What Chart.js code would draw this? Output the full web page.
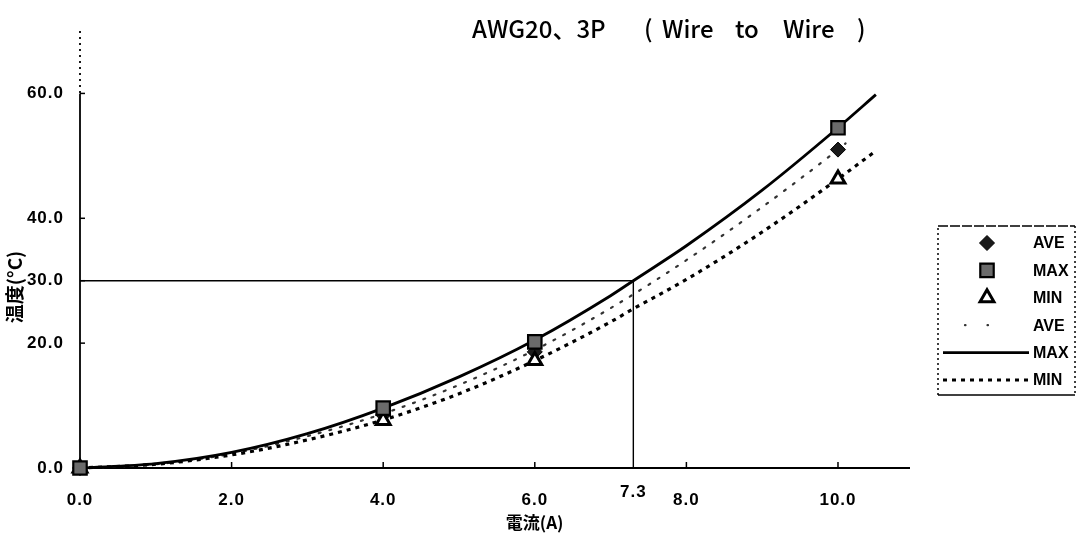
<!DOCTYPE html>
<html>
<head>
<meta charset="utf-8">
<script src="https://cdn.jsdelivr.net/npm/chart.js@4.4.1/dist/chart.umd.min.js"></script>
<style>
  html, body { margin: 0; padding: 0; background: #fff; }
  canvas { display: block; }
</style>
</head>
<body>
<canvas id="c" width="1081" height="540"></canvas>
<script>
// Temperature rise (°C) against current (A) — AWG20, 3 poles, wire to wire
const currentA = [0, 4, 6, 10];
const aveTemp  = [0, 8.5, 18.6, 51.0];
const maxTemp  = [0, 9.6, 20.2, 54.5];
const minTemp  = [0, 7.6, 17.2, 46.3];

// Trend curves
const maxFitX = [0, 1, 2, 3, 4, 5, 6, 7, 7.3, 8, 9, 10, 10.5];
const maxFitY = [0, 0.7, 2.5, 5.5, 9.6, 14.6, 20.5, 27.6, 30.0, 35.6, 44.5, 54.5, 59.8];
const aveFitX = [0, 1, 2, 3, 4, 5, 6, 7, 8, 9, 10, 10.1];
const aveFitY = [0, 0.6, 2.3, 5.1, 8.7, 13.3, 18.9, 25.6, 33.3, 41.8, 51.0, 52.0];
const minFitX = [0, 1, 2, 3, 4, 5, 6, 7, 7.3, 8, 9, 10, 10.5];
const minFitY = [0, 0.6, 2.1, 4.5, 7.7, 11.9, 17.2, 23.4, 25.5, 30.2, 37.8, 46.3, 50.8];

// Rated point: current at which MAX reaches 30 °C
const ratedCurrent = 7.3;
const ratedTemp = 30;

// Axis tick labels
const xTickValues = [0, 2, 4, 6, 7.3, 8, 10];
const yTickValues = [0, 20, 30, 40, 60];

const chartTitle = ['AWG20、3P', '(', 'Wire', 'to', 'Wire', ')'];
const xTitle = '電流(A)';
const yTitle = '温度(°C)';
const legendLabels = ['AVE', 'MAX', 'MIN', 'AVE', 'MAX', 'MIN'];

const pts = (xs, ys) => xs.map((x, i) => ({ x, y: ys[i] }));

const markMax = {
  label: 'MAX', data: pts(currentA, maxTemp), showLine: false, order: 0, clip: false,
  pointStyle: 'rect', pointRadius: 9.5, pointBackgroundColor: '#6b6b6b',
  pointBorderColor: '#000', pointBorderWidth: 2.2
};
const markMin = {
  label: 'MIN', data: pts(currentA, minTemp), showLine: false, order: 1, clip: false,
  pointStyle: 'triangle', pointRadius: 8, pointBackgroundColor: '#fff',
  pointBorderColor: '#000', pointBorderWidth: 3
};
const markAve = {
  label: 'AVE', data: pts(currentA, aveTemp), showLine: false, order: 2, clip: false,
  pointStyle: 'rectRot', pointRadius: 7.5, pointBackgroundColor: '#1a1a1a',
  pointBorderColor: '#000', pointBorderWidth: 1
};
const lineAve = {
  label: 'AVE', data: pts(aveFitX, aveFitY), showLine: true, order: 5, clip: false,
  borderColor: '#333', borderWidth: 2.2, borderDash: [2, 9], borderCapStyle: 'round',
  pointRadius: 0, tension: 0.4, cubicInterpolationMode: 'monotone'
};
const lineMax = {
  label: 'MAX', data: pts(maxFitX, maxFitY), showLine: true, order: 3, clip: false,
  borderColor: '#000', borderWidth: 2.8,
  pointRadius: 0, tension: 0.4, cubicInterpolationMode: 'monotone'
};
const lineMin = {
  label: 'MIN', data: pts(minFitX, minFitY), showLine: true, order: 4, clip: false,
  borderColor: '#000', borderWidth: 3.2, borderDash: [4, 5],
  pointRadius: 0, tension: 0.4, cubicInterpolationMode: 'monotone'
};
const guide = {
  label: 'rated', data: [{ x: 0, y: ratedTemp }, { x: ratedCurrent, y: ratedTemp }, { x: ratedCurrent, y: 0 }],
  showLine: true, order: 6, clip: false, borderColor: '#000', borderWidth: 1.4, pointRadius: 0, tension: 0
};

const TICK_FONT = 'bold 17px "Liberation Sans", Arial, sans-serif';

// Axes, inner tick marks and tick labels
const axesPlugin = {
  id: 'axes',
  beforeDatasetsDraw(chart) {
    const { ctx, chartArea: a, scales: { x, y } } = chart;
    ctx.save();
    ctx.strokeStyle = '#000';
    // value axis: dotted above the top label, solid below
    ctx.lineWidth = 1.8;
    ctx.setLineDash([2, 4]);
    ctx.beginPath(); ctx.moveTo(a.left, a.top); ctx.lineTo(a.left, y.getPixelForValue(60)); ctx.stroke();
    ctx.setLineDash([]);
    ctx.beginPath(); ctx.moveTo(a.left, y.getPixelForValue(60)); ctx.lineTo(a.left, a.bottom); ctx.stroke();
    // category axis
    ctx.lineWidth = 2;
    ctx.beginPath(); ctx.moveTo(a.left, a.bottom); ctx.lineTo(a.right, a.bottom); ctx.stroke();
    // inner tick marks
    ctx.lineWidth = 1.5;
    yTickValues.forEach(v => {
      if (v === 0) return;
      const py = y.getPixelForValue(v);
      ctx.beginPath(); ctx.moveTo(a.left, py); ctx.lineTo(a.left + 5, py); ctx.stroke();
    });
    xTickValues.forEach(v => {
      if (v === 0 || v === ratedCurrent) return;
      const px = x.getPixelForValue(v);
      ctx.beginPath(); ctx.moveTo(px, a.bottom); ctx.lineTo(px, a.bottom - 6); ctx.stroke();
    });
    ctx.restore();
  },
  afterDraw(chart) {
    const { ctx, chartArea: a, scales: { x, y } } = chart;
    ctx.save();
    ctx.fillStyle = '#000';
    ctx.font = TICK_FONT;
    ctx.letterSpacing = '1px';
    ctx.textBaseline = 'middle';
    ctx.textAlign = 'right';
    yTickValues.forEach(v => ctx.fillText(v.toFixed(1), a.left - 16, y.getPixelForValue(v)));
    ctx.textAlign = 'center';
    xTickValues.forEach(v => {
      const py = a.bottom + (v === ratedCurrent ? 24 : 32);
      ctx.fillText(v.toFixed(1), x.getPixelForValue(v), py);
    });
    ctx.letterSpacing = '0px';

    // axis titles
    ctx.font = 'bold 17px "Noto Sans CJK JP", sans-serif';
    ctx.fillText(xTitle, (x.getPixelForValue(4) + x.getPixelForValue(10)) / 2 - 76, a.bottom + 55);
    ctx.save();
    ctx.translate(15, y.getPixelForValue(29));
    ctx.rotate(-Math.PI / 2);
    ctx.font = 'bold 19px "Noto Sans CJK JP", sans-serif';
    ctx.fillText(yTitle, 0, 0);
    ctx.restore();

    // title
    ctx.font = '500 24px "Noto Sans CJK JP", sans-serif';
    ctx.textAlign = 'left';
    const titleX = [472, 644, 662, 735, 783, 857];
    chartTitle.forEach((t, i) => ctx.fillText(t, titleX[i], 29));
    ctx.restore();
  }
};

// Legend box at the right
const legendPlugin = {
  id: 'sideLegend',
  afterDraw(chart) {
    const { ctx } = chart;
    const L = 938, R = 1075, T = 226, B = 395;
    const symX = 987, textX = 1033, y0 = 243, step = 27.4;
    ctx.save();
    ctx.strokeStyle = '#000';
    ctx.lineWidth = 1.5;
    ctx.setLineDash([2, 3]);
    ctx.beginPath();
    ctx.moveTo(L, B); ctx.lineTo(L, T); ctx.moveTo(R, T); ctx.lineTo(R, B);
    ctx.stroke();
    ctx.setLineDash([10, 2]);
    ctx.beginPath(); ctx.moveTo(L, T); ctx.lineTo(R, T); ctx.stroke();
    ctx.setLineDash([]);
    ctx.beginPath(); ctx.moveTo(L, B); ctx.lineTo(R, B); ctx.stroke();

    const marks = [markAve, markMax, markMin];
    marks.forEach((d, i) => {
      const cy = y0 + i * step;
      ctx.fillStyle = d.pointBackgroundColor;
      ctx.strokeStyle = d.pointBorderColor;
      ctx.lineWidth = d.pointBorderWidth;
      Chart.helpers.drawPoint(ctx, {
        pointStyle: d.pointStyle, radius: d.pointRadius,
        borderWidth: d.pointBorderWidth, rotation: 0
      }, symX, cy);
    });
    const lines = [lineAve, lineMax, lineMin];
    lines.forEach((d, i) => {
      const cy = y0 + (i + 3) * step;
      ctx.strokeStyle = d.borderColor;
      ctx.lineWidth = d.borderWidth;
      ctx.lineCap = d.borderCapStyle || 'butt';
      ctx.beginPath();
      if (i === 0) {
        // the sparse AVE line shows two dots in the key
        ctx.setLineDash([0.5, 22]);
        ctx.moveTo(965, cy); ctx.lineTo(990, cy);
      } else {
        ctx.setLineDash(d.borderDash || []);
        ctx.moveTo(943, cy); ctx.lineTo(1029, cy);
      }
      ctx.stroke();
    });
    ctx.setLineDash([]);
    ctx.fillStyle = '#000';
    ctx.font = 'bold 16px "Liberation Sans", Arial, sans-serif';
    ctx.textAlign = 'left';
    ctx.textBaseline = 'middle';
    legendLabels.forEach((t, i) => ctx.fillText(t, textX, y0 + i * step + 1));
    ctx.restore();
  }
};

new Chart(document.getElementById('c'), {
  type: 'scatter',
  data: { datasets: [markMax, markMin, markAve, lineMax, lineMin, lineAve, guide] },
  options: {
    responsive: false,
    devicePixelRatio: 1,
    animation: false,
    layout: { padding: { left: 80, right: 171, top: 31, bottom: 72 } },
    scales: {
      x: { type: 'linear', min: 0, max: 10.95, display: false },
      y: { type: 'linear', min: 0, max: 70, display: false }
    },
    plugins: { legend: { display: false }, tooltip: { enabled: false }, title: { display: false } },
    elements: { line: { fill: false } }
  },
  plugins: [axesPlugin, legendPlugin]
});
</script>
</body>
</html>
